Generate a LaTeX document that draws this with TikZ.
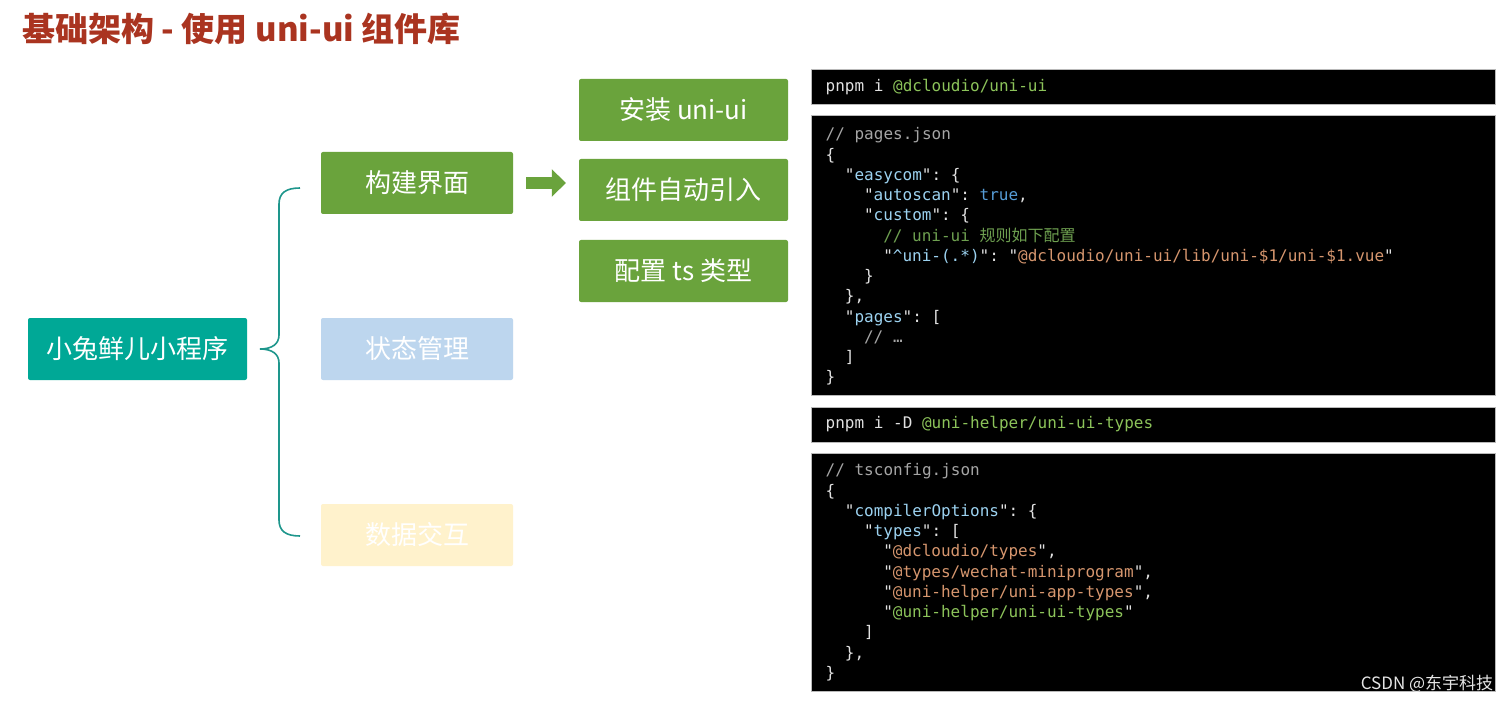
\documentclass[tikz,border=0pt]{standalone}
\usepackage{fontspec}
\setmainfont{Noto Sans CJK SC}
\setmonofont{DejaVu Sans Mono}
\newfontfamily\cjk{Noto Sans CJK SC}
\usetikzlibrary{arrows.meta,positioning,calc}

\definecolor{titlered}{RGB}{170,52,32}
\definecolor{rootteal}{RGB}{0,168,150}
\definecolor{bracecol}{RGB}{30,150,140}
\definecolor{boxgreen}{RGB}{106,163,60}
\definecolor{boxblue}{RGB}{189,214,238}
\definecolor{boxyellow}{RGB}{255,242,204}
\definecolor{cwhite}{RGB}{225,225,225}
\definecolor{cgray}{RGB}{165,165,165}
\definecolor{ckey}{RGB}{156,210,240}
\definecolor{cstr}{RGB}{214,150,110}
\definecolor{cbool}{RGB}{86,156,214}
\definecolor{cnew}{RGB}{140,195,90}
\definecolor{cnote}{RGB}{110,160,80}

\newcommand\ind[1]{\hspace*{#1em}}
\newcommand\jcom[1]{\textcolor{cgray}{#1}}
\newcommand\jkey[1]{"\textcolor{ckey}{#1}"}
\newcommand\jstr[1]{"\textcolor{cstr}{#1}"}
\newcommand\jbool[1]{\textcolor{cbool}{#1}}
\newcommand\jnew[1]{\textcolor{cnew}{#1}}
\newcommand\jnote[1]{\textcolor{cnote}{#1}}

\begin{document}
\begin{tikzpicture}[
  x=1pt,y=-1pt,
  box/.style={rounded corners=2pt, minimum width=192pt, minimum height=62pt, inner sep=0pt, text=white, font=\fontsize{26}{30}\selectfont},
  codebox/.style={fill=black, draw=gray!55, line width=1pt, minimum width=684pt, inner sep=0pt},
  codetxt/.style={inner sep=0pt, align=left, text=cwhite, font=\ttfamily\fontsize{16}{20.25}\selectfont},
  brace/.style={draw=bracecol, line width=1.6pt},
  fatarr/.style={draw=boxgreen, line width=12pt, -{Triangle[width=27pt,length=14pt]}}
]
\useasboundingbox (0,0) rectangle (1512,703);
\fill[white] (0,0) rectangle (1512,703);

\node[anchor=west, inner sep=0pt, text=titlered, font=\bfseries\fontsize{33}{37}\selectfont] (title) at (22,29) {基础架构 - 使用 uni-ui 组件库};

% mind map
\node[box, fill=rootteal, minimum width=219pt] (root) at (137.5,349) {小兔鲜儿小程序};
\node[box, fill=boxgreen] (build) at (417,183) {构建界面};
\node[box, fill=boxblue] (state) at (417,349) {状态管理};
\node[box, fill=boxyellow] (data) at (417,535) {数据交互};
\draw[brace] (300,188) .. controls (286,188) and (279,193) .. (279,204) -- (279,335)
  .. controls (279,344) and (272,349) .. (260,349) .. controls (272,349) and (279,354) .. (279,363)
  -- (279,520) .. controls (279,531) and (286,536) .. (300,536);

\node[box, fill=boxgreen, minimum width=209pt] (install) at (683.5,110) {安装 uni-ui};
\node[box, fill=boxgreen, minimum width=209pt] (auto) at (683.5,190) {组件自动引入};
\node[box, fill=boxgreen, minimum width=209pt] (tstype) at (683.5,271) {配置 ts 类型};
\draw[fatarr] ($(build.east)+(13,0)$) -- ($(build.east -| auto.west)+(-13,0)$);

% code panels
\node[codebox, minimum height=35pt] (cmdA) at (1153,87.5) {};
\node[codebox, minimum height=279pt] (pages) at (1153,255.5) {};
\node[codebox, minimum height=35pt] (cmdB) at (1153,424.5) {};
\node[codebox, minimum height=238pt] (tsconf) at (1153,572) {};

\node[codetxt, anchor=west] (cmdAtxt) at ([xshift=15pt]cmdA.west) {pnpm i \jnew{@dcloudio/uni-ui}};
\node[codetxt, anchor=west] (cmdBtxt) at ([xshift=15pt]cmdB.west) {pnpm i -D \jnew{@uni-helper/uni-ui-types}};

\node[codetxt, anchor=north west] (pagestxt) at ([shift={(15,12)}]pages.north west) {%
\jcom{// pages.json}\\
\{\\
\ind{1.2}\jkey{easycom}: \{\\
\ind{2.4}\jkey{autoscan}: \jbool{true},\\
\ind{2.4}\jkey{custom}: \{\\
\ind{3.6}\jnote{// uni-ui {\cjk 规则如下配置}}\\
\ind{3.6}\jkey{\textasciicircum uni-(.*)}: \jstr{@dcloudio/uni-ui/lib/uni-\$1/uni-\$1.vue}\\
\ind{2.4}\}\\
\ind{1.2}\},\\
\ind{1.2}\jkey{pages}: [\\
\ind{2.4}\jcom{// …}\\
\ind{1.2}]\\
\}};

\node[codetxt, anchor=north west] (tsconftxt) at ([shift={(15,11)}]tsconf.north west) {%
\jcom{// tsconfig.json}\\
\{\\
\ind{1.2}\jkey{compilerOptions}: \{\\
\ind{2.4}\jkey{types}: [\\
\ind{3.6}\jstr{@dcloudio/types},\\
\ind{3.6}\jstr{@types/wechat-miniprogram},\\
\ind{3.6}\jstr{@uni-helper/uni-app-types},\\
\ind{3.6}"\jnew{@uni-helper/uni-ui-types}"\\
\ind{2.4}]\\
\ind{1.2}\},\\
\}};

\node[text=gray!20, inner sep=0pt, font=\fontsize{17}{19}\selectfont] (mark) at (1427,684) {CSDN @东宇科技};
\end{tikzpicture}
\end{document}
